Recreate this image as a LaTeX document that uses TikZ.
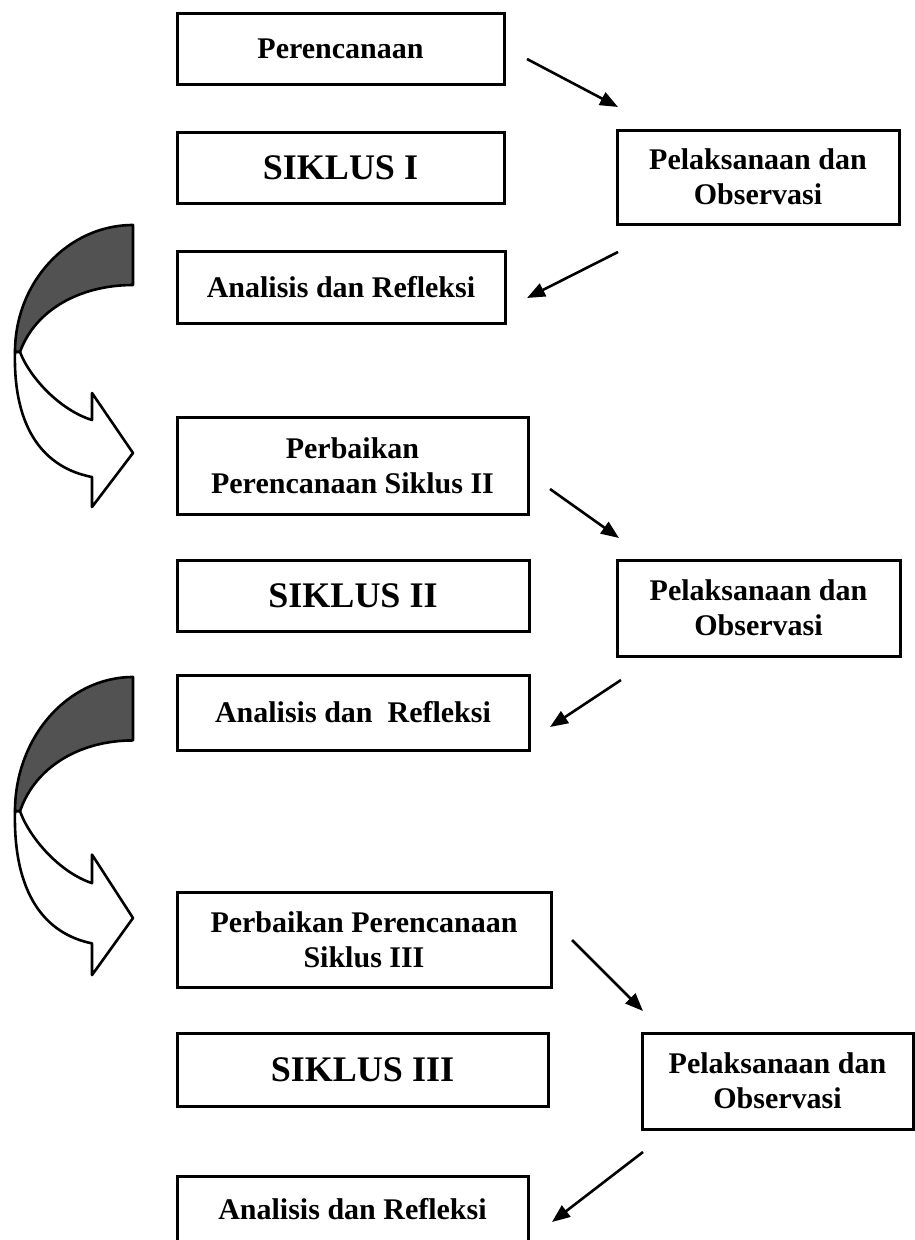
\documentclass[tikz,border=0pt]{standalone}
\usepackage{fontspec}
\setmainfont{Liberation Serif}
\usetikzlibrary{arrows.meta}
\begin{document}
\begin{tikzpicture}[x=1pt,y=-1pt,
  box/.style={draw, line width=3pt, inner sep=0pt, align=center,
    font=\bfseries\fontsize{30}{35}\selectfont},
  bigbox/.style={box, font=\bfseries\fontsize{36}{40}\selectfont},
  flow/.style={line width=2.6pt, -{Triangle[length=18pt,width=14pt]}},
  ribbon/.style={line width=2.6pt, line join=round},
  uturn/.pic={
    \filldraw[ribbon, fill=black!68] (133,0) .. controls (68,0) and (15,57) .. (15,127)
      -- (20,127) .. controls (35,85) and (80,60) .. (133,60) -- cycle;
    \filldraw[ribbon, fill=white] (15,127) .. controls (13,205) and (45,243) .. (92,252)
      -- (92,282) -- (133,228) -- (92,168) -- (92,195)
      .. controls (60,185) and (30,153) .. (20,127) -- cycle;
  }]
\path[fill=white, use as bounding box] (0,0) rectangle (915,1240);

% Siklus I
\node[box, minimum width=327pt, minimum height=71pt] (P1) at (340.5,48.5) {Perencanaan};
\node[bigbox, minimum width=327pt, minimum height=71pt] (S1) at (340.5,167.5) {SIKLUS I};
\node[box, minimum width=282pt, minimum height=94pt] (O1) at (758,177) {Pelaksanaan dan\\Observasi};
\node[box, minimum width=328pt, minimum height=72pt] (A1) at (341,287) {Analisis dan Refleksi};

% Siklus II
\node[box, minimum width=351pt, minimum height=97pt] (P2) at (352.5,465.5) {Perbaikan\\Perencanaan Siklus II};
\node[bigbox, minimum width=352pt, minimum height=71pt] (S2) at (353,595.5) {SIKLUS II};
\node[box, minimum width=283pt, minimum height=96pt] (O2) at (758.5,608) {Pelaksanaan dan\\Observasi};
\node[box, minimum width=352pt, minimum height=75pt] (A2) at (353,712.5) {Analisis dan\ \ Refleksi};

% Siklus III
\node[box, minimum width=374pt, minimum height=95pt] (P3) at (364,939.5) {Perbaikan Perencanaan\\Siklus III};
\node[bigbox, minimum width=371pt, minimum height=73pt] (S3) at (362.5,1069.5) {SIKLUS III};
\node[box, minimum width=271pt, minimum height=96pt] (O3) at (777.5,1081) {Pelaksanaan dan\\Observasi};
\node[box, minimum width=351pt, minimum height=66pt] (A3) at (352.5,1209) {Analisis dan Refleksi};

% arrow end points
\coordinate (a1s) at (527,59);   \coordinate (a1e) at (618,107);
\coordinate (a2s) at (618,252);  \coordinate (a2e) at (527,298);
\coordinate (a3s) at (550,489);  \coordinate (a3e) at (619,538);
\coordinate (a4s) at (621,680);  \coordinate (a4e) at (550,727);
\coordinate (a5s) at (572,940);  \coordinate (a5e) at (643,1011);
\coordinate (a6s) at (643,1152); \coordinate (a6e) at (552,1222);

\draw[flow] (a1s) -- (a1e);
\draw[flow] (a2s) -- (a2e);
\draw[flow] (a3s) -- (a3e);
\draw[flow] (a4s) -- (a4e);
\draw[flow] (a5s) -- (a5e);
\draw[flow] (a6s) -- (a6e);

% U-turn ribbon arrows
\pic[yshift=-225pt] {uturn};
\pic[yshift=-677pt, yscale=1.057] {uturn};
\end{tikzpicture}
\end{document}
